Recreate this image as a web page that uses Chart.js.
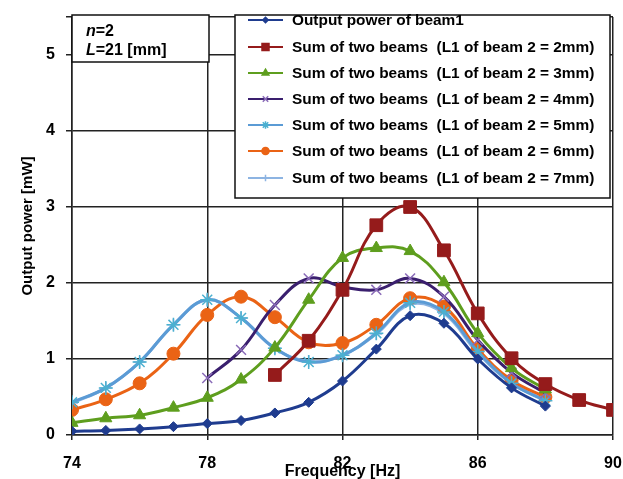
<!DOCTYPE html>
<html>
<head>
<meta charset="utf-8">
<script src="https://cdn.jsdelivr.net/npm/chart.js@4/dist/chart.umd.min.js"></script>
<style>
  html, body { margin: 0; padding: 0; background: #fff; }
  #wrap { width: 623px; height: 479px; }
</style>
</head>
<body>
<div id="wrap"><canvas id="powerChart" width="623" height="479"></canvas></div>
<script>
// frequencies [Hz]
const freqFull = [74, 75, 76, 77, 78, 79, 80, 81, 82, 83, 84, 85, 86, 87, 88];
const freqL2 = [80, 81, 82, 83, 84, 85, 86, 87, 88, 89, 90];
const freqL4 = [78, 79, 80, 81, 82, 83, 84, 85, 86, 87, 88];

// output power [mW]
const beam1 = [0.05, 0.06, 0.08, 0.11, 0.15, 0.19, 0.29, 0.43, 0.71, 1.13, 1.57, 1.47, 1.0, 0.62, 0.38];
const sumL2 = [0.79, 1.24, 1.91, 2.76, 3.0, 2.43, 1.6, 1.01, 0.67, 0.46, 0.33];
const sumL3 = [0.16, 0.22, 0.26, 0.36, 0.49, 0.73, 1.15, 1.78, 2.33, 2.46, 2.42, 2.01, 1.34, 0.88, 0.6];
const sumL4 = [0.75, 1.12, 1.71, 2.06, 1.95, 1.91, 2.06, 1.82, 1.25, 0.82, 0.55];
const sumL5 = [0.43, 0.62, 0.96, 1.45, 1.78, 1.54, 1.14, 0.96, 1.05, 1.34, 1.74, 1.62, 1.1, 0.68, 0.45];
const sumL6 = [0.33, 0.47, 0.68, 1.07, 1.58, 1.82, 1.55, 1.22, 1.21, 1.45, 1.8, 1.69, 1.13, 0.72, 0.5];
const sumL7 = [0.42, 0.62, 0.96, 1.45, 1.78, 1.54, 1.14, 0.97, 1.05, 1.33, 1.72, 1.6, 1.08, 0.68, 0.46];

const seriesLabels = [
  'Output power of beam1',
  'Sum of two beams  (L1 of beam 2 = 2mm)',
  'Sum of two beams  (L1 of beam 2 = 3mm)',
  'Sum of two beams  (L1 of beam 2 = 4mm)',
  'Sum of two beams  (L1 of beam 2 = 5mm)',
  'Sum of two beams  (L1 of beam 2 = 6mm)',
  'Sum of two beams  (L1 of beam 2 = 7mm)'
];

const FONT = '"Liberation Sans", Arial, sans-serif';

function pts(xs, ys) {
  return xs.map((x, i) => ({ x: x, y: ys[i] }));
}

function series(label, xs, ys, line, marker, style, r) {
  return {
    label: label,
    data: pts(xs, ys),
    borderColor: line,
    backgroundColor: marker,
    pointBorderColor: marker,
    pointBackgroundColor: marker,
    pointStyle: style,
    pointRadius: r,
    pointBorderWidth: (style === 'star' || style === 'cross' || style === 'crossRot') ? 1.5 : 1,
    borderWidth: 3,
    tension: 0.4
  };
}

// parameter box + legend box drawn inside the plot
const boxesPlugin = {
  id: 'boxes',
  afterDraw(chart) {
    const ctx = chart.ctx;
    ctx.save();

    // n / L box
    ctx.fillStyle = '#fff';
    ctx.fillRect(72, 15, 137, 47);
    ctx.strokeStyle = '#111';
    ctx.lineWidth = 1.5;
    ctx.strokeRect(72, 15, 137, 47);
    ctx.fillStyle = '#000';
    ctx.textBaseline = 'middle';
    ctx.textAlign = 'left';
    ctx.font = 'italic bold 16px ' + FONT;
    ctx.fillText('n', 86, 32);
    let w = ctx.measureText('n').width;
    ctx.font = 'bold 16px ' + FONT;
    ctx.fillText('=2', 86 + w, 32);
    ctx.font = 'italic bold 16px ' + FONT;
    ctx.fillText('L', 86, 51);
    w = ctx.measureText('L').width;
    ctx.font = 'bold 16px ' + FONT;
    ctx.fillText('=21 [mm]', 86 + w, 51);

    // legend
    ctx.fillStyle = '#fff';
    ctx.fillRect(235, 15, 375, 183);
    ctx.strokeStyle = '#111';
    ctx.lineWidth = 1.5;
    ctx.strokeRect(235, 15, 375, 183);
    const rows = [20, 47, 73, 99, 125, 151, 178];
    chart.data.datasets.forEach((ds, i) => {
      const y = rows[i];
      ctx.strokeStyle = ds.borderColor;
      ctx.lineWidth = 2;
      ctx.beginPath();
      ctx.moveTo(248, y);
      ctx.lineTo(283, y);
      ctx.stroke();
      ctx.fillStyle = ds.pointBackgroundColor;
      ctx.strokeStyle = ds.pointBorderColor;
      ctx.lineWidth = 1.5;
      Chart.helpers.drawPoint(ctx, {
        pointStyle: ds.pointStyle,
        radius: Math.min(ds.pointRadius * 0.55, 5),
        rotation: 0,
        borderWidth: 1.5
      }, 265.5, y);
      ctx.fillStyle = '#000';
      ctx.font = 'bold 15.4px ' + FONT;
      ctx.textBaseline = 'middle';
      ctx.fillText(ds.label, 292, y + 1);
    });
    ctx.restore();
  }
};

new Chart(document.getElementById('powerChart'), {
  type: 'line',
  data: {
    datasets: [
      series(seriesLabels[0], freqFull, beam1, '#1F3C8F', '#1F3C8F', 'rectRot', 5),
      series(seriesLabels[1], freqL2, sumL2, '#951B1B', '#951B1B', 'rect', 9),
      series(seriesLabels[2], freqFull, sumL3, '#5E9E1E', '#5E9E1E', 'triangle', 7),
      series(seriesLabels[3], freqL4, sumL4, '#3A1F6E', '#8A6BB8', 'crossRot', 7),
      series(seriesLabels[4], freqFull, sumL5, '#5B9BD5', '#4BB0D0', 'star', 7),
      series(seriesLabels[5], freqFull, sumL6, '#EA6315', '#EA6315', 'circle', 6.5),
      series(seriesLabels[6], freqFull, sumL7, '#8DB4E2', '#8DB4E2', 'cross', 6)
    ]
  },
  options: {
    responsive: false,
    animation: false,
    layout: { padding: { left: 8, top: 17, right: 10, bottom: 0 } },
    plugins: {
      legend: { display: false },
      title: { display: false },
      tooltip: { enabled: false }
    },
    scales: {
      x: {
        type: 'linear',
        min: 74,
        max: 90,
        afterFit(scale) {
          scale.height = 44;
          scale.paddingLeft = 0;
          scale.paddingRight = 0;
        },
        ticks: {
          stepSize: 4,
          padding: 14,
          color: '#000',
          font: { family: FONT, size: 16, weight: 'bold' }
        },
        grid: { color: '#222', lineWidth: 1.5, tickLength: 5 },
        border: { color: '#222', width: 1.5 },
        title: {
          display: true,
          text: 'Frequency [Hz]',
          color: '#000',
          padding: { top: 0, bottom: -2 },
          font: { family: FONT, size: 16, weight: 'bold' }
        }
      },
      y: {
        min: 0,
        max: 5.5,
        afterFit(scale) {
          scale.width = 64;
          scale.paddingTop = 0;
          scale.paddingBottom = 0;
        },
        ticks: {
          stepSize: 1,
          padding: 11,
          color: '#000',
          font: { family: FONT, size: 16, weight: 'bold' },
          callback: (v) => (Number.isInteger(v) ? v : '')
        },
        grid: { color: '#222', lineWidth: 1.5, tickLength: 6 },
        border: { color: '#222', width: 1.5 },
        title: {
          display: true,
          text: 'Output power [mW]',
          color: '#000',
          padding: { top: 11, bottom: 0 },
          font: { family: FONT, size: 15, weight: 'bold' }
        }
      }
    }
  },
  plugins: [boxesPlugin]
});
</script>
</body>
</html>
